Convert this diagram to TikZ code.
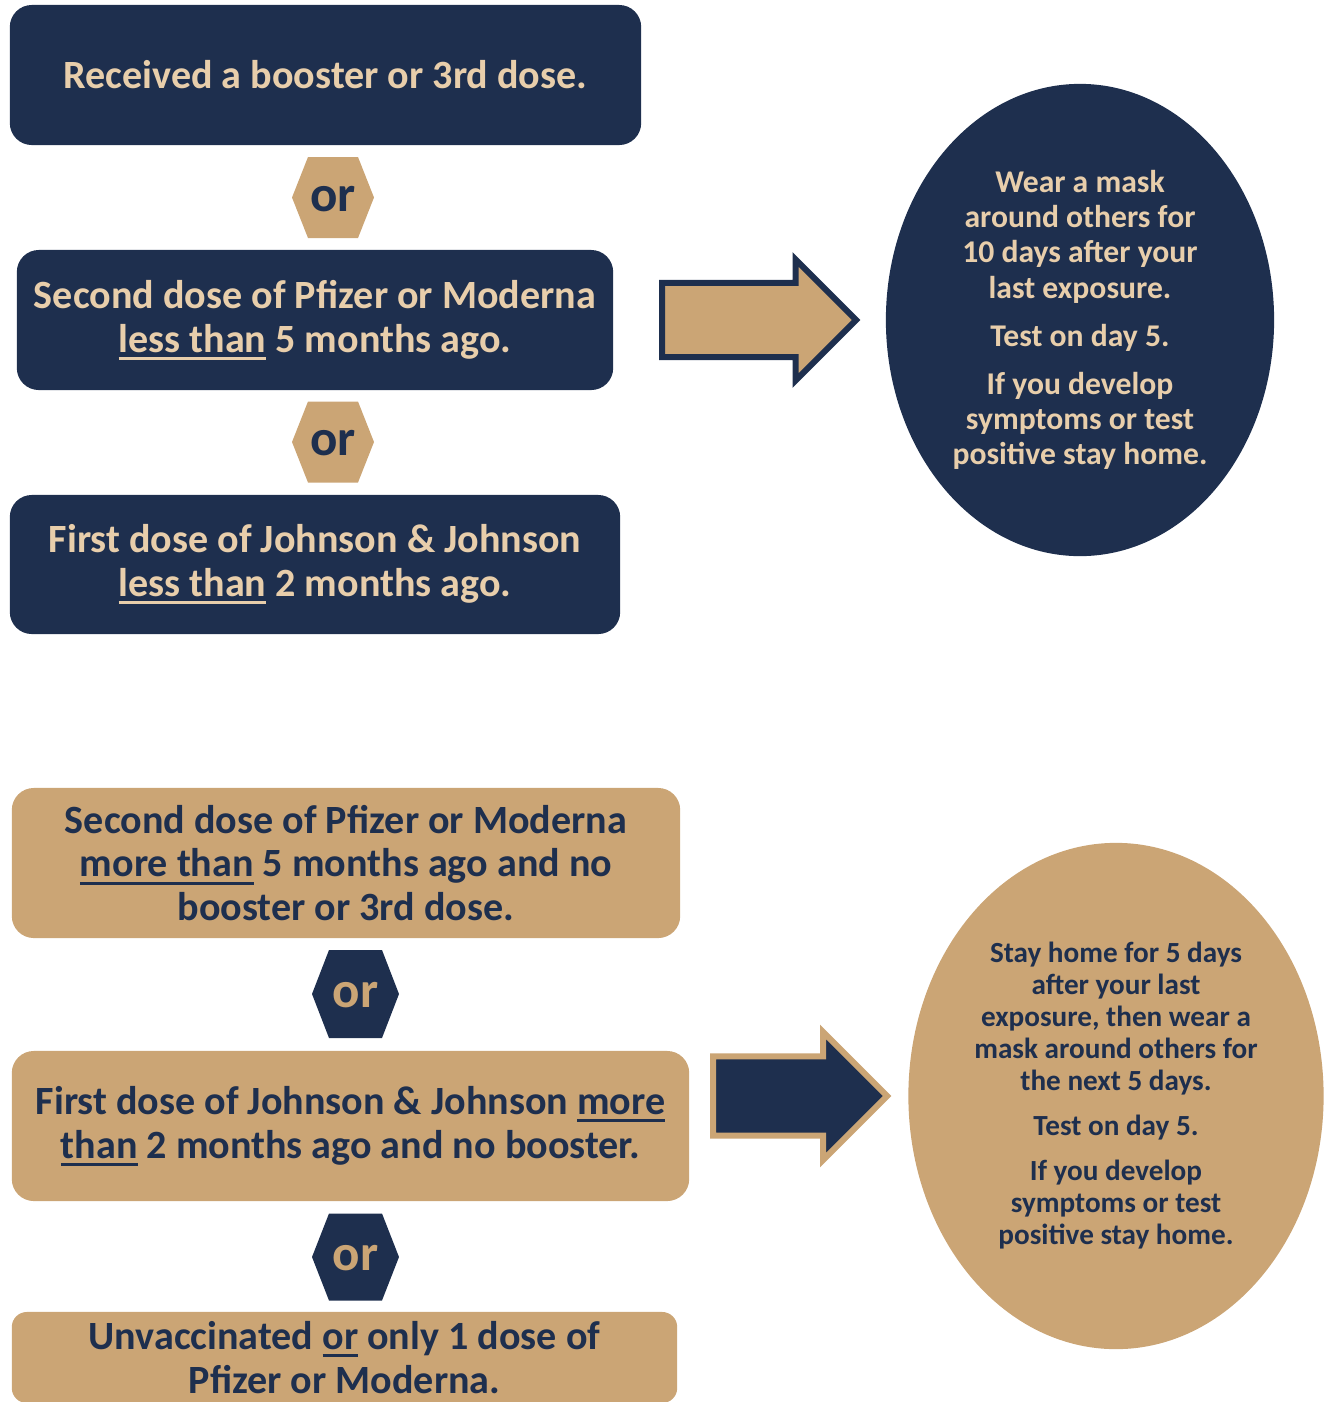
\documentclass[tikz,border=0pt]{standalone}
\usepackage{fontspec}
\setmainfont{Carlito}
\usetikzlibrary{shapes.arrows,shapes.geometric}

\definecolor{navy}{HTML}{1E2F4E}
\definecolor{tanfill}{HTML}{CBA575}
\definecolor{beige}{HTML}{E8CEAB}

\newcommand{\undl}[1]{\setbox0\hbox{#1}\rlap{\rule[-2.2pt]{\wd0}{0.85pt}}\box0\relax}

\tikzset{
  navybox/.style={rectangle, rounded corners=0.22cm, fill=navy, text=beige, align=center,
    inner sep=0pt, font=\fontsize{11.4}{12.5}\selectfont\bfseries},
  tanbox/.style={navybox, fill=tanfill, text=navy},
  ortext/.style={inner sep=0pt, font=\fontsize{14.5}{16}\selectfont\bfseries},
  blockarrow/.style={single arrow, single arrow tip angle=90, inner xsep=0pt,
    line width=0.06cm, anchor=tail},
  adviceoval/.style={ellipse, inner sep=0pt, align=center}
}

\begin{document}
\begin{tikzpicture}[x=0.01cm,y=-0.01cm]

    \useasboundingbox (0,0) rectangle (1333,1402);
    \clip (0,0) rectangle (1333,1402);

    % fully vaccinated
    \node[navybox, minimum width=6.31cm, minimum height=1.40cm] (booster) at (325.5,75)
        {Received a booster or 3rd dose.};
    \node[navybox, minimum width=5.96cm, minimum height=1.40cm] (pfizerless) at (315,320)
        {Second dose of Pfizer or Moderna\\\undl{less than} 5 months ago.};
    \node[navybox, minimum width=6.10cm, minimum height=1.39cm] (jjless) at (315,564.5)
        {First dose of Johnson \& Johnson\\\undl{less than} 2 months ago.};

    \fill[tanfill, shift={(333,197.5)}] (-41,0) -- (-25,-40.5) -- (25,-40.5) -- (41,0) -- (25,40.5) -- (-25,40.5) -- cycle;
    \node[ortext, text=navy] (orA) at (333,199) {or};
    \fill[tanfill, shift={(333,442)}] (-41,0) -- (-25,-40.5) -- (25,-40.5) -- (41,0) -- (25,40.5) -- (-25,40.5) -- cycle;
    \node[ortext, text=navy] (orB) at (333,443.5) {or};

    \node[blockarrow, fill=tanfill, draw=navy, minimum height=1.94cm, inner ysep=0.34cm,
        single arrow head extend=0.235cm] (arrowup) at (659,320) {};

    \node[adviceoval, fill=navy, text=beige, minimum width=3.88cm, minimum height=4.72cm,
        font=\fontsize{9}{10}\selectfont\bfseries] (maskten) at (1080,320)
        {Wear a mask\\around others for\\10 days after your\\last exposure.\\[3.7pt]Test on day 5.\\[3.7pt]If you develop\\symptoms or test\\positive stay home.};

    % not up to date
    \node[tanbox, minimum width=6.68cm, minimum height=1.50cm] (pfizermore) at (346,863)
        {Second dose of Pfizer or Moderna\\\undl{more than} 5 months ago and no\\booster or 3rd dose.};
    \node[tanbox, minimum width=6.77cm, minimum height=1.50cm] (jjmore) at (350.5,1126)
        {First dose of Johnson \& Johnson \undl{more}\\\undl{than} 2 months ago and no booster.};
    \node[tanbox, rounded corners=0.15cm, minimum width=6.65cm, minimum height=0.91cm] (unvacc) at (344.5,1357.5)
        {Unvaccinated \undl{or} only 1 dose of\\Pfizer or Moderna.};

    \fill[navy, shift={(355.5,994)}] (-43.5,0) -- (-26.5,-44) -- (26.5,-44) -- (43.5,0) -- (26.5,44) -- (-26.5,44) -- cycle;
    \node[ortext, text=tanfill] (orC) at (355.5,995.5) {or};
    \fill[navy, shift={(355.5,1257)}] (-43.5,0) -- (-26.5,-43.5) -- (26.5,-43.5) -- (43.5,0) -- (26.5,43.5) -- (-26.5,43.5) -- cycle;
    \node[ortext, text=tanfill] (orD) at (355.5,1258.5) {or};

    \node[blockarrow, fill=navy, draw=tanfill, minimum height=1.74cm, inner ysep=0.365cm,
        single arrow head extend=0.245cm] (arrowdown) at (710,1096) {};

    \node[adviceoval, fill=tanfill, text=navy, minimum width=4.15cm, minimum height=5.06cm,
        font=\fontsize{8.3}{9.1}\selectfont\bfseries] (stayhome) at (1116,1096)
        {Stay home for 5 days\\after your last\\exposure, then wear a\\mask around others for\\the next 5 days.\\[3.7pt]Test on day 5.\\[3.7pt]If you develop\\symptoms or test\\positive stay home.};

\end{tikzpicture}
\end{document}
